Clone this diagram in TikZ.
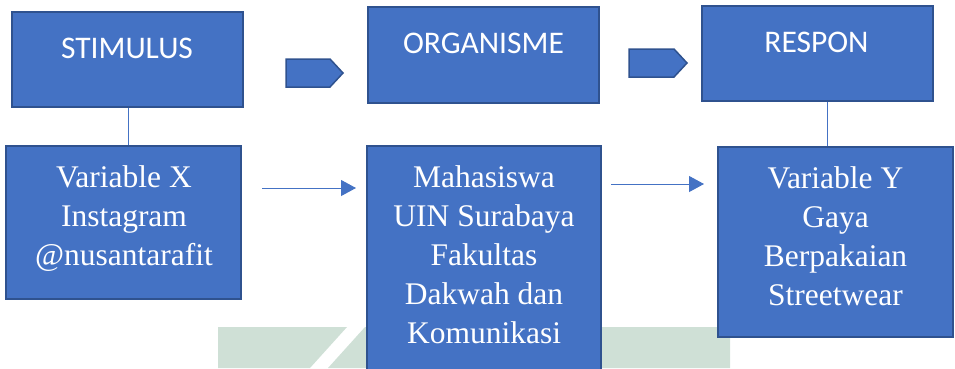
\documentclass[tikz,border=0pt]{standalone}
\usepackage{fontspec}
\newfontfamily\sanf{Carlito}
\newfontfamily\serf{Liberation Serif}
\usetikzlibrary{arrows.meta}
\definecolor{boxblue}{HTML}{4472C4}
\definecolor{boxedge}{HTML}{2F528F}
\definecolor{wmgreen}{RGB}{207,224,214}
\begin{document}
\begin{tikzpicture}[x=1pt,y=-1pt,
  box/.style={draw=boxedge,fill=boxblue,line width=1.5pt,rectangle,inner sep=0pt},
  toptext/.style={text=white,font=\fontsize{31.5}{38}\sanf,anchor=base,inner sep=0pt},
  lowtext/.style={text=white,font=\fontsize{31.5}{39}\selectfont\serf,align=center,anchor=north,inner sep=0pt},
  link/.style={draw=boxblue,line width=0.9pt},
  flow/.style={draw=boxblue,line width=1pt,-{Triangle[length=15pt,width=16pt]}},
  chev/.style={draw=boxedge,fill=boxblue,line width=1.5pt,line join=miter}]
\useasboundingbox (0,0) rectangle (955,368);
\clip (0,0) rectangle (955,368);
% watermark background
\fill[wmgreen] (218,327) -- (347,327) -- (310,368) -- (218,368) -- cycle;
\fill[wmgreen] (365,327) -- (730,327) -- (730,368) -- (328,368) -- cycle;
% top boxes
\node[box,minimum width=231pt,minimum height=95pt] (stim) at (127.5,59.5) {};
\node[box,minimum width=231pt,minimum height=96pt] (org) at (483.5,55) {};
\node[box,minimum width=231pt,minimum height=95pt] (resp) at (817.5,53.5) {};
\node[toptext] (stimt) at (127,58) {STIMULUS};
\node[toptext] (orgt) at (483.5,53) {ORGANISME};
\node[toptext] (respt) at (816.5,52) {RESPON};
% chevron arrows
\draw[chev] (286,59) -- (330,59) -- (343,73) -- (330,87) -- (286,87) -- cycle;
\draw[chev] (629,49) -- (674,49) -- (687,63) -- (674,77) -- (629,77) -- cycle;
% lower boxes
\node[box,minimum width=235pt,minimum height=153pt] (varx) at (123.5,222.5) {};
\node[box,minimum width=234pt,minimum height=224pt] (mhs) at (484,258) {};
\node[box,minimum width=235pt,minimum height=190pt] (vary) at (835.5,242) {};
\node[lowtext] (varxt) at (124,163) {\rule{0pt}{24pt}Variable X\\Instagram\\@nusantarafit};
\node[lowtext] (mhst) at (484,163) {\rule{0pt}{24pt}Mahasiswa\\UIN Surabaya\\Fakultas\\Dakwah dan\\Komunikasi};
\node[lowtext] (varyt) at (835.5,164) {\rule{0pt}{24pt}Variable Y\\Gaya\\Berpakaian\\Streetwear};
% vertical links
\draw[link] ([xshift=0.5pt]stim.south) -- ([xshift=0.5pt]stim.south |- varx.north);
\draw[link] ([xshift=9.5pt]resp.south) -- ([xshift=9.5pt]resp.south |- vary.north);
% flow arrows
\coordinate (a1s) at (262,188);
\coordinate (a1e) at (356,188);
\coordinate (a2s) at (611,184);
\coordinate (a2e) at (704,184);
\draw[flow] (a1s) -- (a1e);
\draw[flow] (a2s) -- (a2e);
\end{tikzpicture}
\end{document}
